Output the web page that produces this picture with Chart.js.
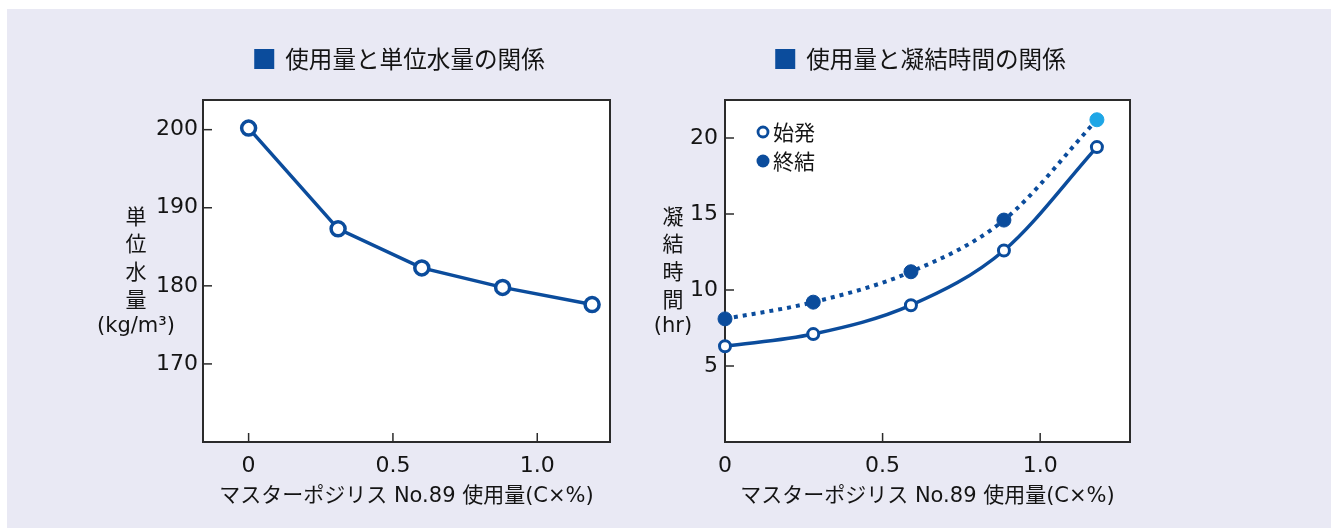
<!DOCTYPE html>
<html lang="ja">
<head>
<meta charset="utf-8">
<script src="https://cdn.jsdelivr.net/npm/chart.js@4"></script>
<style>
body{margin:0;background:#fff;width:1331px;height:528px;overflow:hidden;position:relative}
#bg{position:absolute;left:7px;top:9px;right:0;bottom:0;background:#e9e9f4}
canvas{position:absolute;top:0}
#c1{left:0}
#c2{left:630px}
</style>
</head>
<body>
<div id="bg"></div>
<canvas id="c1" width="630" height="528"></canvas>
<canvas id="c2" width="701" height="528"></canvas>
<script>
// ---------------- DATOS ----------------
const usoIzq = [0, 0.31, 0.60, 0.88, 1.19]
const suiryo = [200.2, 187.3, 182.3, 179.8, 177.6]
const ticksIzqX = [0, 0.5, 1.0]
const ticksIzqY = [170, 180, 190, 200]

const usoDer = [0, 0.28, 0.59, 0.885, 1.18]
const shihatsu = [6.3, 7.1, 9.0, 12.6, 19.4]
const shuketsu = [8.1, 9.2, 11.2, 14.6, 21.2]
const ticksDerX = [0, 0.5, 1.0]
const ticksDerY = [5, 10, 15, 20]

const xTitulo = "マスターポジリス No.89 使用量(C×%)"

const azul = "#0b4c9c"
const celeste = "#1ea6e6"
const texto = "#141414"
const latin = '"DejaVu Sans", "Noto Sans CJK JP", sans-serif'
const jp = '"Noto Sans CJK JP", sans-serif'

// ---------------- DECORACION ----------------
function decor(opt){
return {
id:"decor",
beforeDraw(chart){
const a = chart.chartArea
const ctx = chart.ctx
ctx.save()
ctx.fillStyle = "#fff"
ctx.fillRect(a.left, a.top, a.right - a.left, a.bottom - a.top)
ctx.restore()
},
beforeDatasetsDraw(chart){
const a = chart.chartArea
const ctx = chart.ctx
ctx.save()
ctx.strokeStyle = "#2b2b2b"
ctx.lineWidth = 2
ctx.strokeRect(a.left, a.top, a.right - a.left, a.bottom - a.top)
ctx.lineWidth = 1.5
chart.scales.x.ticks.forEach(t => {
let px = chart.scales.x.getPixelForValue(t.value)
ctx.beginPath(); ctx.moveTo(px, a.bottom); ctx.lineTo(px, a.bottom - 9); ctx.stroke()
})
chart.scales.y.ticks.forEach(t => {
let py = chart.scales.y.getPixelForValue(t.value)
ctx.beginPath(); ctx.moveTo(a.left, py); ctx.lineTo(a.left + 9, py); ctx.stroke()
})
ctx.restore()
},
afterDraw(chart){
const a = chart.chartArea
const ctx = chart.ctx
ctx.save()
// titulo
ctx.font = "23.6px " + jp
ctx.textBaseline = "middle"
let w = ctx.measureText(opt.titulo).width
let x0 = (a.left + a.right) / 2 - 7 - (20 + 11 + w) / 2
ctx.fillStyle = azul
ctx.fillRect(x0, 49, 20, 20)
ctx.fillStyle = texto
ctx.textAlign = "left"
ctx.fillText(opt.titulo, x0 + 31, 59)
// etiqueta vertical
let mid = (a.top + a.bottom) / 2
let cx = a.left + opt.offset
ctx.textAlign = "center"
ctx.font = "21px " + jp
opt.chars.forEach((c, i) => {
ctx.fillText(c, cx, mid + (i - 2) * 27.6)
})
ctx.font = "21px " + latin
ctx.fillText(opt.unidad, cx, mid + 2 * 27.6)
// leyenda
if(opt.leyenda){
const ds = chart.data.datasets
let lx = a.left + 38
let ly = [a.top + 32, a.top + 61]
ctx.beginPath(); ctx.arc(lx, ly[0], 5, 0, Math.PI * 2)
ctx.fillStyle = "#fff"; ctx.fill()
ctx.strokeStyle = azul; ctx.lineWidth = 2.8; ctx.stroke()
ctx.beginPath(); ctx.arc(lx, ly[1], 6.5, 0, Math.PI * 2)
ctx.fillStyle = azul; ctx.fill()
ctx.fillStyle = texto
ctx.font = "21px " + jp
ctx.textAlign = "left"
ctx.fillText(ds[0].label, lx + 10, ly[0])
ctx.fillText(ds[1].label, lx + 10, ly[1])
}
ctx.restore()
}
}
}

function escalas(xmin, xmax, tx, ymin, ymax, ty, anchoY, padY){
return {
x:{
type:"linear",
min:xmin,
max:xmax,
afterBuildTicks: s => { s.ticks = tx.map(v => ({value:v})) },
afterFit: s => { s.height = 86 },
grid:{display:false},
border:{display:false},
ticks:{
padding:3,
color:texto,
font:{family:latin, size:22},
callback: v => v === 0 ? "0" : v.toFixed(1)
},
title:{
display:true,
text:xTitulo,
color:texto,
font:{family:latin, size:21},
padding:{top:0, bottom:19}
}
},
y:{
min:ymin,
max:ymax,
afterBuildTicks: s => { s.ticks = ty.map(v => ({value:v})) },
afterFit: s => { s.width = anchoY },
grid:{display:false},
border:{display:false},
ticks:{
padding:padY,
color:texto,
font:{family:latin, size:22}
}
}
}
}

// ---------------- GRAFICO 1 ----------------
new Chart(document.getElementById("c1"),{
type:"line",
data:{
datasets:[{
label:"単位水量",
data:usoIzq.map((x, i) => ({x:x, y:suiryo[i]})),
borderColor:azul,
borderWidth:3.5,
pointRadius:7,
pointBorderWidth:3.5,
pointBackgroundColor:"#fff",
pointBorderColor:azul,
tension:0,
clip:false
}]
},
options:{
responsive:false,
animation:false,
events:[],
layout:{padding:{left:0, top:100, right:20, bottom:0}},
scales:escalas(-0.158, 1.252, ticksIzqX, 160, 203.8, ticksIzqY, 203, -3),
plugins:{legend:{display:false}, tooltip:{enabled:false}}
},
plugins:[decor({
titulo:"使用量と単位水量の関係",
chars:["単","位","水","量"],
unidad:"(kg/m³)",
offset:-67
})]
})

// ---------------- GRAFICO 2 ----------------
new Chart(document.getElementById("c2"),{
type:"line",
data:{
datasets:[{
label:"始発",
data:usoDer.map((x, i) => ({x:x, y:shihatsu[i]})),
borderColor:azul,
borderWidth:3.5,
pointRadius:5.5,
pointBorderWidth:3,
pointBackgroundColor:"#fff",
pointBorderColor:azul,
cubicInterpolationMode:"monotone",
clip:false
},{
label:"終結",
data:usoDer.map((x, i) => ({x:x, y:shuketsu[i]})),
borderColor:azul,
borderWidth:4,
borderDash:[4,5],
pointRadius:7,
pointBorderWidth:1,
pointBackgroundColor:shuketsu.map((v, i) => i === shuketsu.length - 1 ? celeste : azul),
pointBorderColor:shuketsu.map((v, i) => i === shuketsu.length - 1 ? celeste : azul),
cubicInterpolationMode:"monotone",
clip:false
}]
},
options:{
responsive:false,
animation:false,
events:[],
layout:{padding:{left:0, top:100, right:201, bottom:0}},
scales:escalas(0, 1.285, ticksDerX, 0, 22.5, ticksDerY, 95, -1),
plugins:{legend:{display:false}, tooltip:{enabled:false}}
},
plugins:[decor({
titulo:"使用量と凝結時間の関係",
chars:["凝","結","時","間"],
unidad:"(hr)",
offset:-52,
leyenda:true
})]
})
</script>
</body>
</html>
